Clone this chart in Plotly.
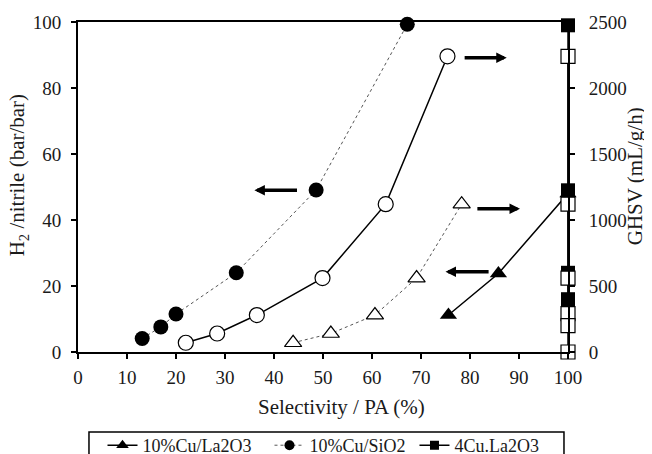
import plotly.graph_objects as go

# ---- data ----
sel_sio2_h2 = [13.1, 16.9, 20.0, 32.3, 48.6, 67.2]
h2_sio2 = [4.1, 7.6, 11.5, 24.0, 49.1, 99.3]
sel_sio2_ghsv = [22.0, 28.4, 36.5, 49.9, 62.8, 75.4]
ghsv_sio2 = [70, 140, 280, 560, 1120, 2240]

sel_la_h2 = [75.6, 85.8, 100.0]
h2_la = [11.2, 23.8, 48.0]
sel_la_ghsv = [43.9, 51.6, 60.6, 69.1, 78.3]
ghsv_la = [70, 140, 280, 560, 1120]

sel_4cu_h2 = [100, 100, 100, 100]
h2_4cu = [99, 49, 24, 16]
sel_4cu_ghsv = [100, 100, 100, 100, 100, 100]
ghsv_4cu = [2240, 1120, 560, 290, 200, 0]

x_ticks = [0, 10, 20, 30, 40, 50, 60, 70, 80, 90, 100]
y_ticks = [0, 20, 40, 60, 80, 100]
y2_ticks = [0, 500, 1000, 1500, 2000, 2500]

series_names = ["10%Cu/La2O3", "10%Cu/SiO2", "4Cu.La2O3"]

FONT = "Liberation Serif"
TXT = "#1a1a1a"
fig = go.Figure()

# left-axis (filled) series
fig.add_trace(go.Scatter(
    x=sel_la_h2, y=h2_la, mode="lines+markers", showlegend=False, cliponaxis=False,
    line=dict(color="black", width=1.5),
    marker=dict(symbol="triangle-up", size=15, color="black")))
fig.add_trace(go.Scatter(
    x=sel_sio2_h2, y=h2_sio2, mode="lines+markers", showlegend=False, cliponaxis=False,
    line=dict(color="#555555", width=1, dash="dot"),
    marker=dict(symbol="circle", size=15, color="black")))
fig.add_trace(go.Scatter(
    x=sel_4cu_h2, y=h2_4cu, mode="lines+markers", showlegend=False, cliponaxis=False,
    line=dict(color="black", width=1.5),
    marker=dict(symbol="square", size=14, color="black")))

# right-axis (open) series
fig.add_trace(go.Scatter(
    x=sel_la_ghsv, y=ghsv_la, mode="lines+markers", yaxis="y2", showlegend=False,
    cliponaxis=False,
    line=dict(color="#555555", width=1, dash="dot"),
    marker=dict(symbol="triangle-up", size=15, color="white",
                line=dict(color="black", width=1.2))))
fig.add_trace(go.Scatter(
    x=sel_sio2_ghsv, y=ghsv_sio2, mode="lines+markers", yaxis="y2", showlegend=False,
    cliponaxis=False,
    line=dict(color="black", width=1.5),
    marker=dict(symbol="circle", size=15, color="white",
                line=dict(color="black", width=1.2))))
fig.add_trace(go.Scatter(
    x=sel_4cu_ghsv, y=ghsv_4cu, mode="lines+markers", yaxis="y2", showlegend=False,
    cliponaxis=False,
    line=dict(color="black", width=1.5),
    marker=dict(symbol="square", size=14, color="white",
                line=dict(color="black", width=1.2))))

# legend-only entries (smaller symbols, like the reference key)
leg_styles = [
    dict(sym="triangle-up", dash="solid", col="black", w=1.5, size=11),
    dict(sym="circle", dash="dot", col="#555555", w=1, size=10),
    dict(sym="square", dash="solid", col="black", w=1.5, size=9),
]
leg_ids = ["legend", "legend2", "legend3"]
for name, st, lid in zip(series_names, leg_styles, leg_ids):
    fig.add_trace(go.Scatter(
        x=[None], y=[None], mode="lines+markers", name=name, legend=lid,
        line=dict(color=st["col"], width=st["w"], dash=st["dash"]),
        marker=dict(symbol=st["sym"], size=st["size"], color="black")))

arrows = [
    dict(x=36.0, y=49, ax=45.0, ay=49),
    dict(x=87.5, y=89.2, ax=78.6, ay=89.2),
    dict(x=90.2, y=43.4, ax=81.2, ay=43.4),
    dict(x=75.0, y=24.3, ax=84.1, ay=24.3),
]
for a in arrows:
    fig.add_annotation(x=a["x"], y=a["y"], ax=a["ax"], ay=a["ay"],
                       xref="x", yref="y", axref="x", ayref="y",
                       text="", showarrow=True, arrowhead=2, arrowsize=0.6,
                       arrowwidth=3.5, arrowcolor="black", standoff=0)

# axis titles as annotations for exact placement
fig.add_annotation(text="Selectivity / PA (%)", xref="paper", yref="paper",
                   x=0.537, y=-0.167, xanchor="center", yanchor="middle",
                   showarrow=False, font=dict(family=FONT, size=21, color=TXT))
fig.add_annotation(text="H<sub>2</sub> /nitrile (bar/bar)", xref="paper", yref="paper",
                   x=-0.122, y=0.536, xanchor="center", yanchor="middle", textangle=-90,
                   showarrow=False, font=dict(family=FONT, size=21, color=TXT))
fig.add_annotation(text="GHSV (mL/g/h)", xref="paper", yref="paper",
                   x=1.137, y=0.533, xanchor="center", yanchor="middle", textangle=-90,
                   showarrow=False, font=dict(family=FONT, size=21, color=TXT))

# legend frame (runs off the bottom edge, as in the reference)
fig.add_shape(type="rect", xref="paper", yref="paper",
              x0=0.0224, x1=0.9918, y0=-0.2424, y1=-0.40,
              line=dict(color="black", width=1.5), fillcolor="rgba(0,0,0,0)")

axis_common = dict(showgrid=False, zeroline=False, showline=True, linecolor="black",
                   linewidth=2, ticks="outside", ticklen=5, tickwidth=1.5,
                   tickcolor="black", automargin=False,
                   tickfont=dict(family=FONT, size=19, color=TXT))

leg_common = dict(orientation="h", yanchor="top", xanchor="left", y=-0.2273,
                  borderwidth=0, bgcolor="rgba(0,0,0,0)", itemwidth=30,
                  font=dict(family=FONT, size=18, color=TXT))

fig.update_layout(
    width=652, height=454,
    margin=dict(l=70, r=92, t=14, b=110, autoexpand=False),
    paper_bgcolor="white", plot_bgcolor="white",
    font=dict(family=FONT, size=18, color=TXT),
    xaxis=dict(range=[0, 100], tickvals=x_ticks, mirror=True, ticklabelstandoff=2,
               **axis_common),
    yaxis=dict(range=[0, 100], tickvals=y_ticks, ticklabelstandoff=6, **axis_common),
    yaxis2=dict(range=[0, 2500], tickvals=y2_ticks, overlaying="y", side="right",
                ticklabelstandoff=10, **axis_common),
    legend=dict(x=0.0500, **leg_common),
    legend2=dict(x=0.3908, **leg_common),
    legend3=dict(x=0.6867, **leg_common),
)

fig.write_html("out.html")
